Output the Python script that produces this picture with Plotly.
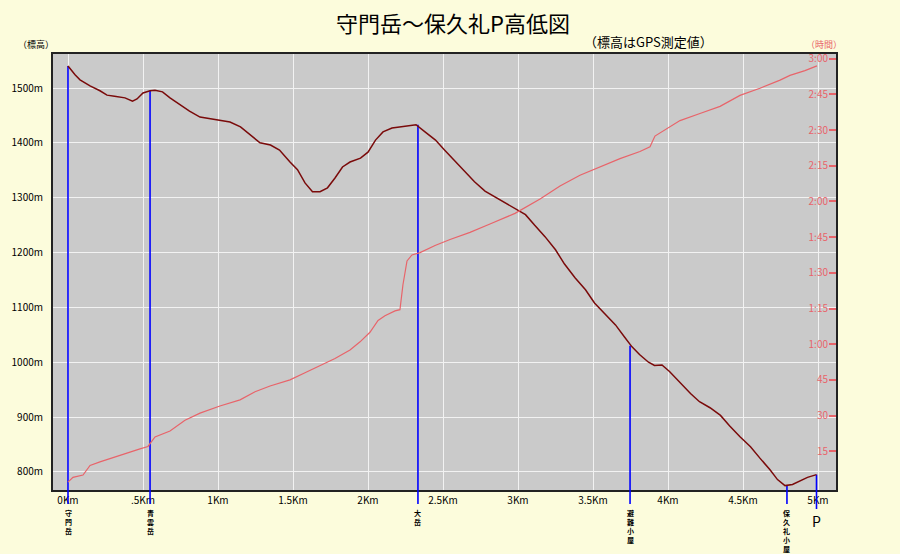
import plotly.graph_objects as go

# ---- data ----
dist_km = [0.0, 0.047, 0.08, 0.147, 0.213, 0.26, 0.31, 0.38, 0.43, 0.46, 0.5, 0.547, 0.58, 0.63,
           0.68, 0.75, 0.81, 0.88, 0.95, 1.01, 1.08, 1.15, 1.21, 1.28, 1.35, 1.41, 1.48, 1.53,
           1.58, 1.63, 1.68, 1.73, 1.78, 1.83, 1.88, 1.95, 2.0, 2.05, 2.1, 2.16, 2.21, 2.28,
           2.32, 2.38, 2.45, 2.51, 2.58, 2.65, 2.71, 2.78, 2.85, 2.91, 2.98, 3.05, 3.11, 3.18,
           3.25, 3.31, 3.38, 3.45, 3.51, 3.58, 3.65, 3.71, 3.76, 3.81, 3.87, 3.91, 3.96, 4.01,
           4.08, 4.15, 4.21, 4.28, 4.35, 4.41, 4.48, 4.55, 4.61, 4.68, 4.73, 4.78, 4.83, 4.88,
           4.93, 4.99]
elev_m = [1540, 1524, 1515, 1504, 1495, 1487, 1485, 1482, 1476, 1480, 1491, 1495, 1496, 1493,
          1482, 1469, 1458, 1447, 1444, 1442, 1438, 1429, 1416, 1400, 1396, 1387, 1365, 1351,
          1327, 1311, 1311, 1318, 1336, 1356, 1365, 1372, 1383, 1405, 1420, 1427, 1429, 1431,
          1433, 1420, 1405, 1387, 1367, 1347, 1329, 1312, 1301, 1291, 1280, 1269, 1250, 1229,
          1205, 1179, 1154, 1132, 1108, 1088, 1068, 1046, 1028, 1014, 1000, 994, 995, 983,
          963, 943, 928, 917, 903, 884, 864, 846, 826, 804, 786, 775, 777, 784,
          790, 795]

time_dist_km = [0.0, 0.033, 0.1, 0.147, 0.213, 0.347, 0.48, 0.533, 0.58, 0.68, 0.78, 0.88,
                1.013, 1.147, 1.247, 1.347, 1.48, 1.58, 1.68, 1.78, 1.88, 1.947, 2.013, 2.067,
                2.113, 2.18, 2.213, 2.233, 2.26, 2.293, 2.347, 2.447, 2.547, 2.68, 2.813, 2.98,
                3.147, 3.28, 3.413, 3.547, 3.68, 3.813, 3.88, 3.913, 3.98, 4.08, 4.213, 4.347,
                4.48, 4.613, 4.747, 4.813, 4.913, 4.993]
time_min = [2, 4, 5, 9, 10.5, 13.4, 16, 17, 21, 23.5, 28, 31,
            34, 36.6, 40, 42.4, 45, 48, 51, 54, 57.6, 61, 65, 70,
            72, 74, 74.5, 85, 95, 97.5, 98.5, 101.5, 104, 107, 110.5, 115,
            121, 126.5, 131, 134.5, 138, 141, 143, 147.5, 150, 154, 157, 160,
            164.6, 167.6, 171, 173, 175, 177]

marker_names = ["守門岳", "青雲岳", "大岳", "避難小屋", "保久礼小屋"]
marker_km = [0.0, 0.547, 2.333, 3.747, 4.793]
marker_elev = [1540, 1495, 1433, 1030, 775]
p_km = 4.99
p_elev = 795

x_tickvals = [0, 0.5, 1, 1.5, 2, 2.5, 3, 3.5, 4, 4.5, 5]
x_ticktext = ["0Km", ".5Km", "1Km", "1.5Km", "2Km", "2.5Km", "3Km", "3.5Km", "4Km", "4.5Km", "5Km"]
y_tickvals = [800, 900, 1000, 1100, 1200, 1300, 1400, 1500]
y_ticktext = ["800m", "900m", "1000m", "1100m", "1200m", "1300m", "1400m", "1500m"]
t_tickvals = [15, 30, 45, 60, 75, 90, 105, 120, 135, 150, 165, 180]
t_ticktext = ["15", "30", "45", "1:00", "1:15", "1:30", "1:45", "2:00", "2:15", "2:30", "2:45", "3:00"]

JP = "Noto Sans CJK JP"
TIME_RED = "#E8646A"
BLUE = "#0000FF"

W, H = 900, 554
L, R, T, B = 53, 64, 54, 64
pw, ph = W - L - R, H - T - B


def px_x(px):
    return (px - L) / pw


def px_y(py):
    return (H - B - py) / ph


fig = go.Figure()

# blue marker lines inside plot (data part)
for xk, ev in zip(marker_km + [p_km], marker_elev + [p_elev]):
    fig.add_trace(go.Scatter(x=[xk, xk], y=[ev, 700], mode="lines",
                             line=dict(color=BLUE, width=1.6), hoverinfo="skip", showlegend=False))

fig.add_trace(go.Scatter(x=time_dist_km, y=time_min, mode="lines", yaxis="y2",
                         line=dict(color=TIME_RED, width=1.2), showlegend=False))
fig.add_trace(go.Scatter(x=dist_km, y=elev_m, mode="lines",
                         line=dict(color="#7A0A0A", width=1.5), showlegend=False))

shapes = []
for xk in marker_km:
    shapes.append(dict(type="line", xref="x", yref="paper", x0=xk, x1=xk, y0=0, y1=px_y(504),
                       line=dict(color=BLUE, width=1.6)))
shapes.append(dict(type="line", xref="x", yref="paper", x0=p_km, x1=p_km, y0=0, y1=px_y(509),
                   line=dict(color=BLUE, width=1.6)))

annotations = [
    dict(text="守門岳～保久礼P高低図", x=453, y=22, size=22, color="#000"),
    dict(text="（標高はGPS測定値）", x=648, y=41, size=13, color="#000"),
    dict(text="（標高）", x=36, y=44, size=9, color="#000"),
    dict(text="（時間）", x=824, y=44, size=9, color=TIME_RED),
]
annotations = [dict(text=a["text"], x=px_x(a["x"]), y=px_y(a["y"]), xref="paper", yref="paper",
                    showarrow=False, xanchor="center", yanchor="middle",
                    font=dict(family=JP, size=a["size"], color=a["color"]))
               for a in annotations]

# vertical (stacked) place names under the markers
for name, xk in zip(marker_names, marker_km):
    annotations.append(dict(text="<br>".join("<b>" + ch + "</b>" for ch in name), x=xk, xref="x",
                            y=px_y(507), yref="paper", showarrow=False, xanchor="center",
                            yanchor="top", borderpad=0,
                            font=dict(family=JP, size=7, color="#000")))
annotations.append(dict(text="P", x=p_km, xref="x", y=px_y(521), yref="paper", showarrow=False,
                        xanchor="center", yanchor="middle", font=dict(family=JP, size=14, color="#000")))

fig.update_layout(
    width=W, height=H,
    margin=dict(l=L, r=R, t=T, b=B),
    paper_bgcolor="#FCFCDC",
    plot_bgcolor="#CACACA",
    showlegend=False,
    shapes=shapes,
    annotations=annotations,
    xaxis=dict(range=[-0.1, 5.12], tickvals=x_tickvals, ticktext=x_ticktext,
               showgrid=True, gridcolor="#F2F2F2", gridwidth=1, zeroline=False,
               showline=True, linecolor="#222", linewidth=2, mirror=True, ticks="",
               tickfont=dict(family=JP, size=10, color="#000")),
    yaxis=dict(range=[767, 1562], tickvals=y_tickvals, ticktext=y_ticktext,
               showgrid=True, gridcolor="#F2F2F2", gridwidth=1, zeroline=False,
               showline=True, linecolor="#222", linewidth=2, mirror=True, ticks="",
               ticklabelstandoff=6,
               tickfont=dict(family=JP, size=10, color="#000")),
    yaxis2=dict(range=[-1.3, 182], overlaying="y", side="right", tickvals=t_tickvals,
                ticktext=t_ticktext, showgrid=False, zeroline=False,
                ticks="inside", ticklen=7, tickcolor=TIME_RED, tickwidth=1.5,
                ticklabelposition="inside", ticklabeloverflow="allow",
                tickfont=dict(family=JP, size=10, color=TIME_RED)),
)

fig.write_html("out.html", config={"displayModeBar": False},
               post_script="document.body.style.margin='0';")
